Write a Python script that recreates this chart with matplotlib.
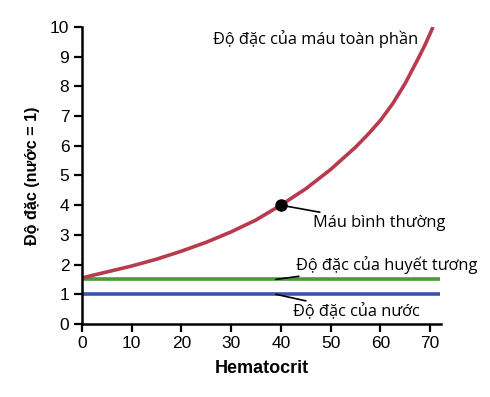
import matplotlib
matplotlib.use("Agg")
import matplotlib.pyplot as plt
import numpy as np

hematocrit = [0, 5, 10, 15, 20, 25, 30, 35, 40, 45, 50, 55, 57.5, 60, 62.5, 65, 67.5, 69, 70.6]
blood_visc = [1.55, 1.75, 1.95, 2.18, 2.45, 2.75, 3.1, 3.5, 4.0, 4.55, 5.2, 5.95, 6.38, 6.85, 7.42, 8.1, 8.9, 9.4, 10.0]
plasma_x = [0, 72]
plasma_visc = [1.5, 1.5]
water_x = [0, 72]
water_visc = [1.0, 1.0]
normal_point = (40, 4.0)

xticks = [0, 10, 20, 30, 40, 50, 60, 70]
yticks = list(range(0, 11))

fig = plt.figure(figsize=(4.9, 3.97), dpi=100)
ax = fig.add_axes([0.167, 0.184, 0.733, 0.748])

ax.plot(water_x, water_visc, color="#3c55a6", lw=2.6, solid_capstyle="butt")
ax.plot(plasma_x, plasma_visc, color="#4c9a3c", lw=2.6, solid_capstyle="butt")
ax.plot(hematocrit, blood_visc, color="#b83a4e", lw=2.6, solid_capstyle="butt",
        solid_joinstyle="round")
ax.plot([normal_point[0]], [normal_point[1]], "o", color="black", ms=8, zorder=5)

ax.set_xlim(0, 72.2)
ax.set_ylim(0, 10)
ax.set_xticks(xticks)
ax.set_yticks(yticks)
for s in ["top", "right"]:
    ax.spines[s].set_visible(False)
for s in ["left", "bottom"]:
    ax.spines[s].set_linewidth(1.8)
ax.tick_params(direction="out", length=6, width=1.6, labelsize=12.5, pad=3)
for lab in ax.get_xticklabels() + ax.get_yticklabels():
    lab.set_fontfamily("Liberation Sans")

ax.set_xlabel("Hematocrit", fontsize=13, fontweight="bold", family="Liberation Sans", labelpad=6)
ax.set_ylabel("Độ đặc (nước = 1)", fontsize=11.6, fontweight="bold", family="Liberation Sans", labelpad=7)

afont = dict(fontsize=11.8, family="Open Sans", color="black")
ax.text(26.4, 9.6, "Độ đặc của máu toàn phần", ha="left", va="center", **afont)
ax.annotate("Máu bình thường", xy=(40, 4.0), xytext=(46.5, 3.4), ha="left", va="center",
            arrowprops=dict(arrowstyle="-", color="black", lw=1.2, shrinkA=0, shrinkB=0), **afont)
ax.annotate("Độ đặc của huyết tương", xy=(39, 1.5), xytext=(43, 2.0), ha="left", va="center",
            arrowprops=dict(arrowstyle="-", color="black", lw=1.2, shrinkA=0, shrinkB=0), **afont)
ax.annotate("Độ đặc của nước", xy=(39, 1.0), xytext=(42.5, 0.4), ha="left", va="center",
            arrowprops=dict(arrowstyle="-", color="black", lw=1.2, shrinkA=0, shrinkB=0), **afont)

fig.savefig("out.png", dpi=100)
